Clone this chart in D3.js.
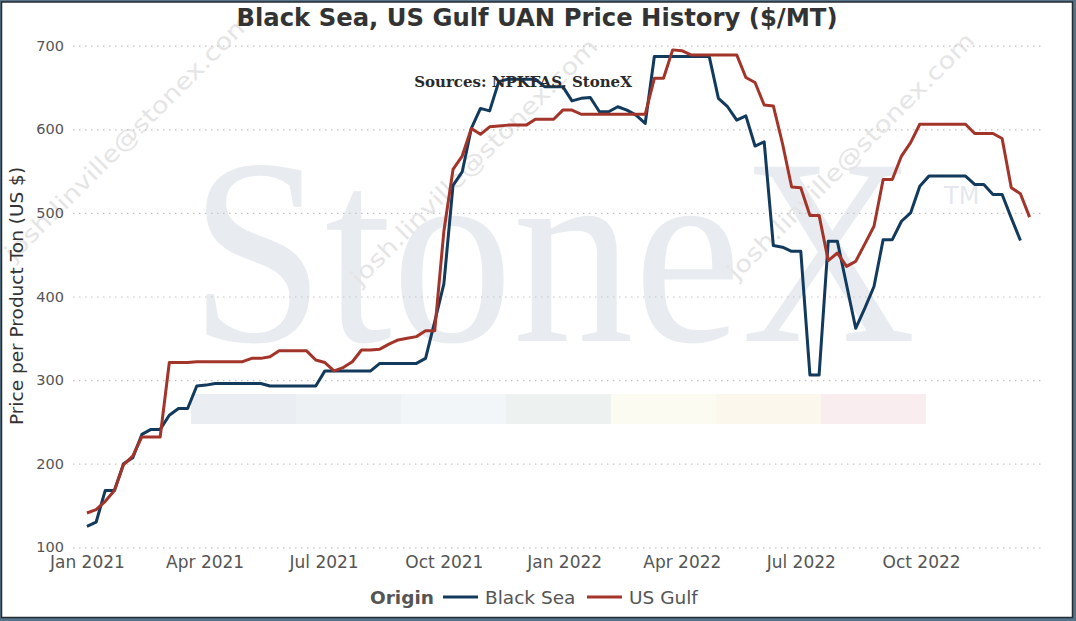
<!DOCTYPE html>
<html lang="en">
<head>
    <meta charset="UTF-8">
    <title>Black Sea, US Gulf UAN Price History</title>
    <script src="https://d3js.org/d3.v7.min.js"></script>
    <style>
        body{
            margin: 0;
            background-color: #56758b;
        }
        svg{
            display: block;
        }
        .tick text{
            fill: #555;
            font-family: "DejaVu Sans", Verdana, sans-serif;
        }
        .grid line{
            stroke: #c4c4c4;
            stroke-width: 1.2px;
            stroke-dasharray: 1.5,4.5;
        }
    </style>
</head>
<body>
<svg id="chart" width="1076" height="621"></svg>
<script>
    // weekly UAN prices, $/MT, first week starts Jan 1 2021
    let firstWeek = new Date(2021, 0, 1);
    let blackSea = [125,130,168,168,200,207,235,241,241,258,
        266,266,293,294,296,296,296,296,296,296,
        293,293,293,293,293,293,311,311,311,311,
        311,311,320,320,320,320,320,326,370,415,
        533,549,601,625,622,657,660,660,660,660,
        651,651,651,634,637,638,621,621,627,623,
        617,607,687,687,687,687,687,687,687,637,
        627,611,616,580,585,461,459,454,454,306,
        306,466,466,414,362,386,412,468,468,490,
        500,532,544,544,544,544,544,534,534,522,
        522,494,467];
    let usGulf = [141,145,155,168,199,209,232,232,232,321,
        321,321,322,322,322,322,322,322,326,326,
        328,335,335,335,335,324,321,311,315,322,
        336,336,337,343,348,350,352,359,359,478,
        552,568,601,594,603,604,605,605,605,612,
        612,612,623,623,618,618,618,618,618,618,
        618,618,661,661,695,694,689,689,689,689,
        689,689,662,656,629,628,583,531,530,497,
        497,443,452,436,442,463,484,540,540,568,
        584,606,606,606,606,606,606,595,595,595,
        589,530,523,495];
    let seriesNames = ["Black Sea", "US Gulf"];
    let seriesColors = ["#123a5c", "#a3342a"];
    let yTicks = [100, 200, 300, 400, 500, 600, 700];
    let xTicks = [new Date(2021,0,1), new Date(2021,3,1), new Date(2021,6,1), new Date(2021,9,1),
        new Date(2022,0,1), new Date(2022,3,1), new Date(2022,6,1), new Date(2022,9,1)];
    let stripeColors = ["#eaeef2","#edf1f4","#f2f6f9","#edf2f0","#fbfbf2","#fcf7ed","#f9edef"];

    let svg = d3.select('#chart');
    let plotLeft = 73, plotRight = 1042, plotTop = 45.7, plotBottom = 547.3;

    // frame
    svg.append('rect')
        .attr('x', 1.5).attr('y', 2).attr('width', 1071).attr('height', 615.5)
        .attr('fill', 'white').attr('stroke', '#262b30').attr('stroke-width', 1.5);

    let x = d3.scaleTime()
        .domain([new Date(2020, 11, 21, 8), new Date(2023, 0, 1, 12)])
        .range([plotLeft, plotRight]);
    let y = d3.scaleLinear().domain([100, 700]).range([plotBottom, plotTop]);

    // watermark
    let wm = svg.append('g');
    wm.selectAll('rect.stripe')
        .data(stripeColors)
        .enter()
        .append('rect')
        .attr('class', 'stripe')
        .attr('x', function(d, i){ return 191 + i * 105; })
        .attr('y', 394).attr('width', 105).attr('height', 30)
        .attr('fill', function(d){ return d; });
    let logo = wm.append('text')
        .attr('fill', '#e8ecf0');
    logo.append('tspan')
        .attr('x', 190).attr('y', 341)
        .attr('textLength', 726).attr('lengthAdjust', 'spacingAndGlyphs')
        .style('font-family', '"Liberation Serif", "DejaVu Serif", serif')
        .style('font-size', '266px')
        .text('StoneX');
    logo.append('tspan')
        .attr('x', 944).attr('y', 204)
        .style('font-family', '"DejaVu Sans", sans-serif')
        .style('font-size', '24px')
        .attr('fill', '#e4e8ed')
        .text('TM');
    let mailSpots = [[14, 262], [360, 287], [737, 281]];
    wm.selectAll('text.mail')
        .data(mailSpots)
        .enter()
        .append('text')
        .attr('class', 'mail')
        .attr('transform', function(d){ return 'translate(' + d[0] + ',' + d[1] + ') rotate(-45)'; })
        .attr('textLength', 338).attr('lengthAdjust', 'spacingAndGlyphs')
        .style('font-family', '"DejaVu Sans", sans-serif')
        .style('font-size', '23px')
        .attr('fill', '#e5e5e5')
        .text('josh.linville@stonex.com');

    // grid + y ticks
    let yAxis = svg.append('g')
        .attr('class', 'grid')
        .attr('transform', 'translate(' + plotLeft + ',0)')
        .call(d3.axisLeft(y).tickValues(yTicks).tickSize(-(plotRight - plotLeft)).tickPadding(9));
    yAxis.select('.domain').remove();
    yAxis.selectAll('text').style('font-size', '14.5px');

    let xAxis = svg.append('g')
        .attr('transform', 'translate(0,' + plotBottom + ')')
        .call(d3.axisBottom(x).tickValues(xTicks).tickFormat(d3.timeFormat('%b %Y')).tickSize(0).tickPadding(9));
    xAxis.select('.domain').remove();
    xAxis.selectAll('text').style('font-size', '17px');

    // lines
    let series = [blackSea, usGulf];
    let line = d3.line()
        .x(function(d, i){ return x(d3.timeDay.offset(firstWeek, i * 7)); })
        .y(function(d){ return y(d); });
    svg.append('g').selectAll('path')
        .data(series)
        .enter()
        .append('path')
        .attr('d', line)
        .attr('fill', 'none')
        .attr('stroke', function(d, i){ return seriesColors[i]; })
        .attr('stroke-width', 3)
        .attr('stroke-linejoin', 'round');

    // titles
    svg.append('text')
        .attr('x', 537).attr('y', 26)
        .attr('text-anchor', 'middle')
        .style('font-family', '"DejaVu Sans", Verdana, sans-serif')
        .style('font-weight', 'bold')
        .style('font-size', '24.3px')
        .attr('fill', '#333')
        .text('Black Sea, US Gulf UAN Price History ($/MT)');
    svg.append('text')
        .attr('x', 523).attr('y', 87)
        .attr('text-anchor', 'middle')
        .style('font-family', '"DejaVu Serif", serif')
        .style('font-weight', 'bold')
        .style('font-size', '15px')
        .attr('fill', '#2a2a2a')
        .text('Sources: NPKFAS, StoneX');
    svg.append('text')
        .attr('transform', 'translate(23,296) rotate(-90)')
        .attr('text-anchor', 'middle')
        .style('font-family', '"DejaVu Sans", Verdana, sans-serif')
        .style('font-size', '18.5px')
        .attr('fill', '#333')
        .text('Price per Product Ton (US $)');

    // legend
    let legend = svg.append('g').attr('transform', 'translate(0,597)')
        .style('font-family', '"DejaVu Sans", Verdana, sans-serif')
        .style('font-size', '18.5px');
    legend.append('text')
        .attr('x', 370).attr('y', 7)
        .style('font-weight', 'bold')
        .attr('fill', '#555')
        .text('Origin');
    let legendX = [443, 587];
    let items = legend.selectAll('g.item')
        .data(seriesNames)
        .enter()
        .append('g')
        .attr('class', 'item')
        .attr('transform', function(d, i){ return 'translate(' + legendX[i] + ',0)'; });
    items.append('line')
        .attr('x1', 0).attr('x2', 35)
        .attr('stroke', function(d, i){ return seriesColors[i]; })
        .attr('stroke-width', 3);
    items.append('text')
        .attr('x', 42).attr('y', 7)
        .attr('fill', '#555')
        .text(function(d){ return d; });
</script>
</body>
</html>
